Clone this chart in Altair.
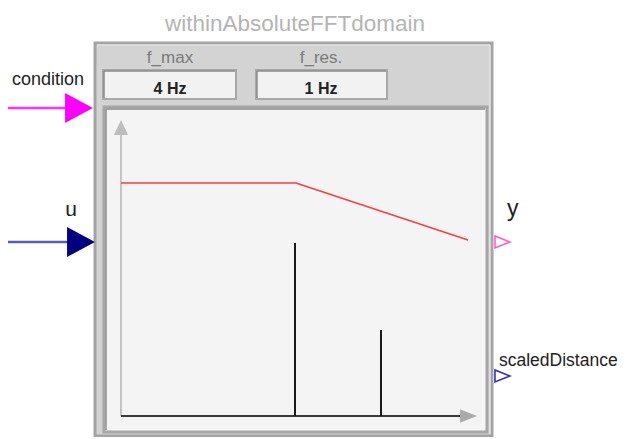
import altair as alt
import pandas as pd

# ---- data (in the icon's own drawing coordinates) ----
title_text = ["withinAbsoluteFFTdomain"]
param_names = ["f_max", "f_res."]
param_values = ["4 Hz", "1 Hz"]

# characteristic curve (red) : breakpoints
curve_x = [121, 296, 468]
curve_y = [183, 183, 240]

# spectrum spikes
spike_x = [295, 381]
spike_top = [243, 330]
axis_base = 416

# ports
in_names = ["condition", "u"]
out_names = ["y", "scaledDistance"]

X = alt.Scale(domain=[8, 623])
Y = alt.Scale(domain=[8, 437], reverse=True)


def rect_layer(df, fill, stroke, sw):
    return alt.Chart(df).mark_rect(fill=fill, stroke=stroke, strokeWidth=sw).encode(
        x=alt.X("x:Q", scale=X, axis=None), x2="x2:Q",
        y=alt.Y("y:Q", scale=Y, axis=None), y2="y2:Q")


def seg_layer(df, color, sw):
    return alt.Chart(df).mark_rule(color=color, strokeWidth=sw).encode(
        x=alt.X("x:Q", scale=X, axis=None), x2="x2:Q",
        y=alt.Y("y:Q", scale=Y, axis=None), y2="y2:Q")


def sym_layer(df, path, size, color, filled, sw=1.5):
    kw = dict(shape=path, size=size, filled=filled, opacity=1)
    if filled:
        kw.update(fill=color, strokeWidth=0)
    else:
        kw.update(stroke=color, strokeWidth=sw, fillOpacity=0)
    return alt.Chart(df).mark_point(**kw).encode(
        x=alt.X("x:Q", scale=X, axis=None), y=alt.Y("y:Q", scale=Y, axis=None))


def text_layer(df, size, color, font="Liberation Sans", weight="normal", align="center", baseline="alphabetic"):
    return alt.Chart(df).mark_text(fontSize=size, color=color, font=font, fontWeight=weight,
                                   align=align, baseline=baseline).encode(
        x=alt.X("x:Q", scale=X, axis=None), y=alt.Y("y:Q", scale=Y, axis=None), text="t:N")


layers = []
# outer body (bevelled)
layers.append(rect_layer(pd.DataFrame({"x": [95], "x2": [492], "y": [43], "y2": [436]}), "#d3d3d3", "#a4a4a4", 3))
layers.append(seg_layer(pd.DataFrame({"x": [97, 490], "x2": [490, 490], "y": [45, 45], "y2": [45, 434]}), "#ececec", 1))
# parameter boxes
layers.append(rect_layer(pd.DataFrame({"x": [103, 256], "x2": [236, 387], "y": [70, 70], "y2": [99, 99]}), "#f2f2f2", "#a8a8a8", 2))
layers.append(seg_layer(pd.DataFrame({"x": [104, 104, 257, 257], "x2": [235, 104, 386, 257],
                                      "y": [71, 71, 71, 71], "y2": [71, 98, 71, 98]}), "#8c8c8c", 1.5))
# plot area
layers.append(rect_layer(pd.DataFrame({"x": [104], "x2": [487], "y": [107], "y2": [432]}), "#f4f4f4", "#a6a6a6", 3))
layers.append(seg_layer(pd.DataFrame({"x": [106, 106], "x2": [485, 106], "y": [109, 109], "y2": [109, 430]}), "#8e8e8e", 1.5))

# axes
layers.append(seg_layer(pd.DataFrame({"x": [121], "x2": [121], "y": [axis_base], "y2": [132]}), "#c4c4c4", 2))
layers.append(seg_layer(pd.DataFrame({"x": [121], "x2": [462], "y": [axis_base], "y2": [axis_base]}), "#3a3a3a", 2))
layers.append(sym_layer(pd.DataFrame({"x": [121], "y": [127.5]}), "M 0 -1 L 0.95 1 L -0.95 1 Z", 225, "#bdbdbd", True))
layers.append(sym_layer(pd.DataFrame({"x": [468.5], "y": [axis_base]}), "M 1 0 L -1 0.8 L -1 -0.8 Z", 289, "#aaaaaa", True))

# red curve
layers.append(alt.Chart(pd.DataFrame({"x": curve_x, "y": curve_y, "o": [0, 1, 2]})).mark_line(
    color="#ff3b3b", strokeWidth=1.6).encode(
    x=alt.X("x:Q", scale=X, axis=None), y=alt.Y("y:Q", scale=Y, axis=None), order="o:Q"))

# spikes
layers.append(seg_layer(pd.DataFrame({"x": spike_x, "x2": spike_x, "y": [axis_base] * 2, "y2": spike_top}), "#1a1a1a", 2))

# input connectors
layers.append(seg_layer(pd.DataFrame({"x": [8], "x2": [68], "y": [108], "y2": [108]}), "#ff33ff", 2.5))
layers.append(seg_layer(pd.DataFrame({"x": [8], "x2": [68], "y": [242], "y2": [242]}), "#5c5cb8", 2.5))
layers.append(sym_layer(pd.DataFrame({"x": [79], "y": [108]}), "M -0.93 -1 L 0.93 0 L -0.93 1 Z", 900, "#ff00ff", True))
layers.append(sym_layer(pd.DataFrame({"x": [81], "y": [242]}), "M -0.93 -1 L 0.93 0 L -0.93 1 Z", 900, "#000080", True))

# output connectors
layers.append(sym_layer(pd.DataFrame({"x": [502.5], "y": [242]}), "M -1 -0.8 L 1 0 L -1 0.8 Z", 225, "#ff55cc", False))
layers.append(sym_layer(pd.DataFrame({"x": [502.5], "y": [376]}), "M -1 -0.8 L 1 0 L -1 0.8 Z", 225, "#2a2ab0", False))

# texts
layers.append(text_layer(pd.DataFrame({"x": [295], "y": [31], "t": title_text}), 22.5, "#b4b4b4"))
layers.append(text_layer(pd.DataFrame({"x": [170, 321], "y": [63, 63], "t": param_names}), 17, "#7a7a7a"))
layers.append(text_layer(pd.DataFrame({"x": [170, 321], "y": [94, 94], "t": param_values}), 16, "#222222", weight="bold"))
layers.append(text_layer(pd.DataFrame({"x": [48], "y": [85], "t": [in_names[0]]}), 18, "#222222"))
layers.append(text_layer(pd.DataFrame({"x": [71], "y": [216], "t": [in_names[1]]}), 21, "#222222"))
layers.append(text_layer(pd.DataFrame({"x": [507], "y": [216], "t": [out_names[0]]}), 23, "#222222", align="left"))
layers.append(text_layer(pd.DataFrame({"x": [499], "y": [366], "t": [out_names[1]]}), 17.5, "#222222", align="left"))

chart = alt.layer(*layers).properties(
    width=615, height=429, padding=0, autosize=alt.AutoSizeParams(type="none"),
    background="white",
).configure_view(stroke=None)

chart.save("out.html", embed_options={"renderer": "svg", "actions": False})
